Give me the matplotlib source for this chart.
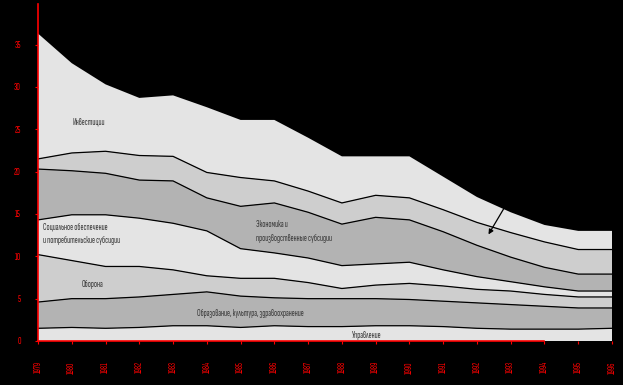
import numpy as np
import matplotlib
matplotlib.use("Agg")
import matplotlib.pyplot as plt

years = list(range(1979, 1997))

# layer thicknesses, bottom to top
upravlenie = [1.5, 1.6, 1.5, 1.6, 1.8, 1.8, 1.6, 1.8, 1.7, 1.7, 1.8, 1.8, 1.7, 1.5, 1.4, 1.4, 1.4, 1.5]
obrazovanie = [3.1, 3.4, 3.5, 3.6, 3.7, 4.0, 3.7, 3.3, 3.3, 3.3, 3.2, 3.1, 3.0, 3.0, 2.9, 2.7, 2.5, 2.4]
oborona = [5.6, 4.5, 3.8, 3.6, 2.9, 1.9, 2.1, 2.3, 1.9, 1.2, 1.6, 1.9, 1.8, 1.6, 1.6, 1.4, 1.3, 1.3]
socialnoe = [4.1, 5.4, 6.1, 5.7, 5.5, 5.3, 3.5, 3.0, 2.9, 2.7, 2.5, 2.5, 1.9, 1.5, 1.1, 0.9, 0.7, 0.7]
ekonomika = [6.0, 5.2, 4.9, 4.5, 5.0, 3.9, 5.0, 5.9, 5.4, 4.9, 5.5, 5.0, 4.5, 3.7, 2.9, 2.3, 2.0, 2.0]
prochee = [1.2, 2.1, 2.6, 2.9, 2.9, 3.0, 3.4, 2.6, 2.5, 2.5, 2.6, 2.6, 2.6, 2.7, 2.9, 3.0, 2.9, 2.9]
investicii = [14.8, 10.6, 7.9, 6.8, 7.2, 7.7, 6.8, 7.2, 6.3, 5.5, 4.6, 4.9, 3.9, 3.0, 2.4, 2.0, 2.2, 2.2]

layers = [upravlenie, obrazovanie, oborona, socialnoe, ekonomika, prochee, investicii]
colors = ['#e4e4e4', '#b3b3b3', '#cecece', '#e4e4e4', '#b3b3b3', '#cecece', '#e4e4e4']

narrow = ['Sofia Sans Extra Condensed', 'Fira Sans Extra Condensed', 'DejaVu Sans']
red = '#ff0000'
txt = '#3a3a3a'

fig = plt.figure(figsize=(6.23, 3.85), dpi=100, facecolor='black')
ax = fig.add_axes([38 / 623, 1 - 341 / 385, 574 / 623, 338.8 / 385])
ax.set_facecolor('black')

ax.stackplot(years, layers, colors=colors, linewidth=0)
# black boundary lines between layers (not on the top edge)
cum = np.cumsum(np.array(layers), axis=0)
for row in cum[:-1]:
    ax.plot(years, row, color='black', linewidth=0.9)

ax.set_xlim(1979, 1996)
ax.set_ylim(0, 40)
ax.set_yticks(range(0, 40, 5))
ax.set_xticks(years)
ax.set_xticklabels([str(y) for y in years], rotation=90)

for side in ['top', 'right']:
    ax.spines[side].set_visible(False)
ax.spines['left'].set_color(red)
ax.spines['bottom'].set_color(red)
ax.spines['left'].set_linewidth(1.2)
ax.spines['bottom'].set_linewidth(1.2)
ax.spines['bottom'].set_bounds(1979, 1994)
ax.spines['left'].set_bounds(0, 39.8)

ax.tick_params(colors=red, length=2.5, width=0.8, direction='out')
ax.tick_params(axis='y', pad=10)
ax.tick_params(axis='x', pad=12)
for lab in ax.get_xticklabels():
    lab.set_family(narrow)
    lab.set_fontsize(6.5)
for lab in ax.get_yticklabels():
    lab.set_family(narrow)
    lab.set_fontsize(7)

fs = 6.5
ax.text(1980.5, 25.9, 'Инвестиции', fontsize=fs, color=txt, family=narrow, style='normal',
        ha='center', va='center')
ax.text(1979.15, 12.7, 'Социальное обеспечение\nи потребительские субсидии', fontsize=fs,
        color=txt, family=narrow, style='normal', ha='left', va='center', linespacing=1.6)
ax.text(1980.6, 6.7, 'Оборона', fontsize=fs, color=txt, family=narrow, style='normal',
        ha='center', va='center')
ax.text(1985.45, 12.9, 'Экономика и\nпроизводственные субсидии', fontsize=fs,
        color=txt, family=narrow, style='normal', ha='left', va='center', linespacing=1.7)
ax.text(1983.7, 3.3, 'Образование, культура, здравоохранение', fontsize=fs, color=txt,
        family=narrow, style='normal', ha='left', va='center')
ax.text(1988.3, 0.7, 'Управление', fontsize=fs, color=txt, family=narrow, style='normal',
        ha='left', va='center')

ax.annotate('', xy=(1992.3, 12.3), xytext=(1992.85, 16.0),
            arrowprops=dict(arrowstyle='-|>', color='black', lw=0.9, mutation_scale=7))

fig.savefig('out.png', dpi=100, facecolor='black')
